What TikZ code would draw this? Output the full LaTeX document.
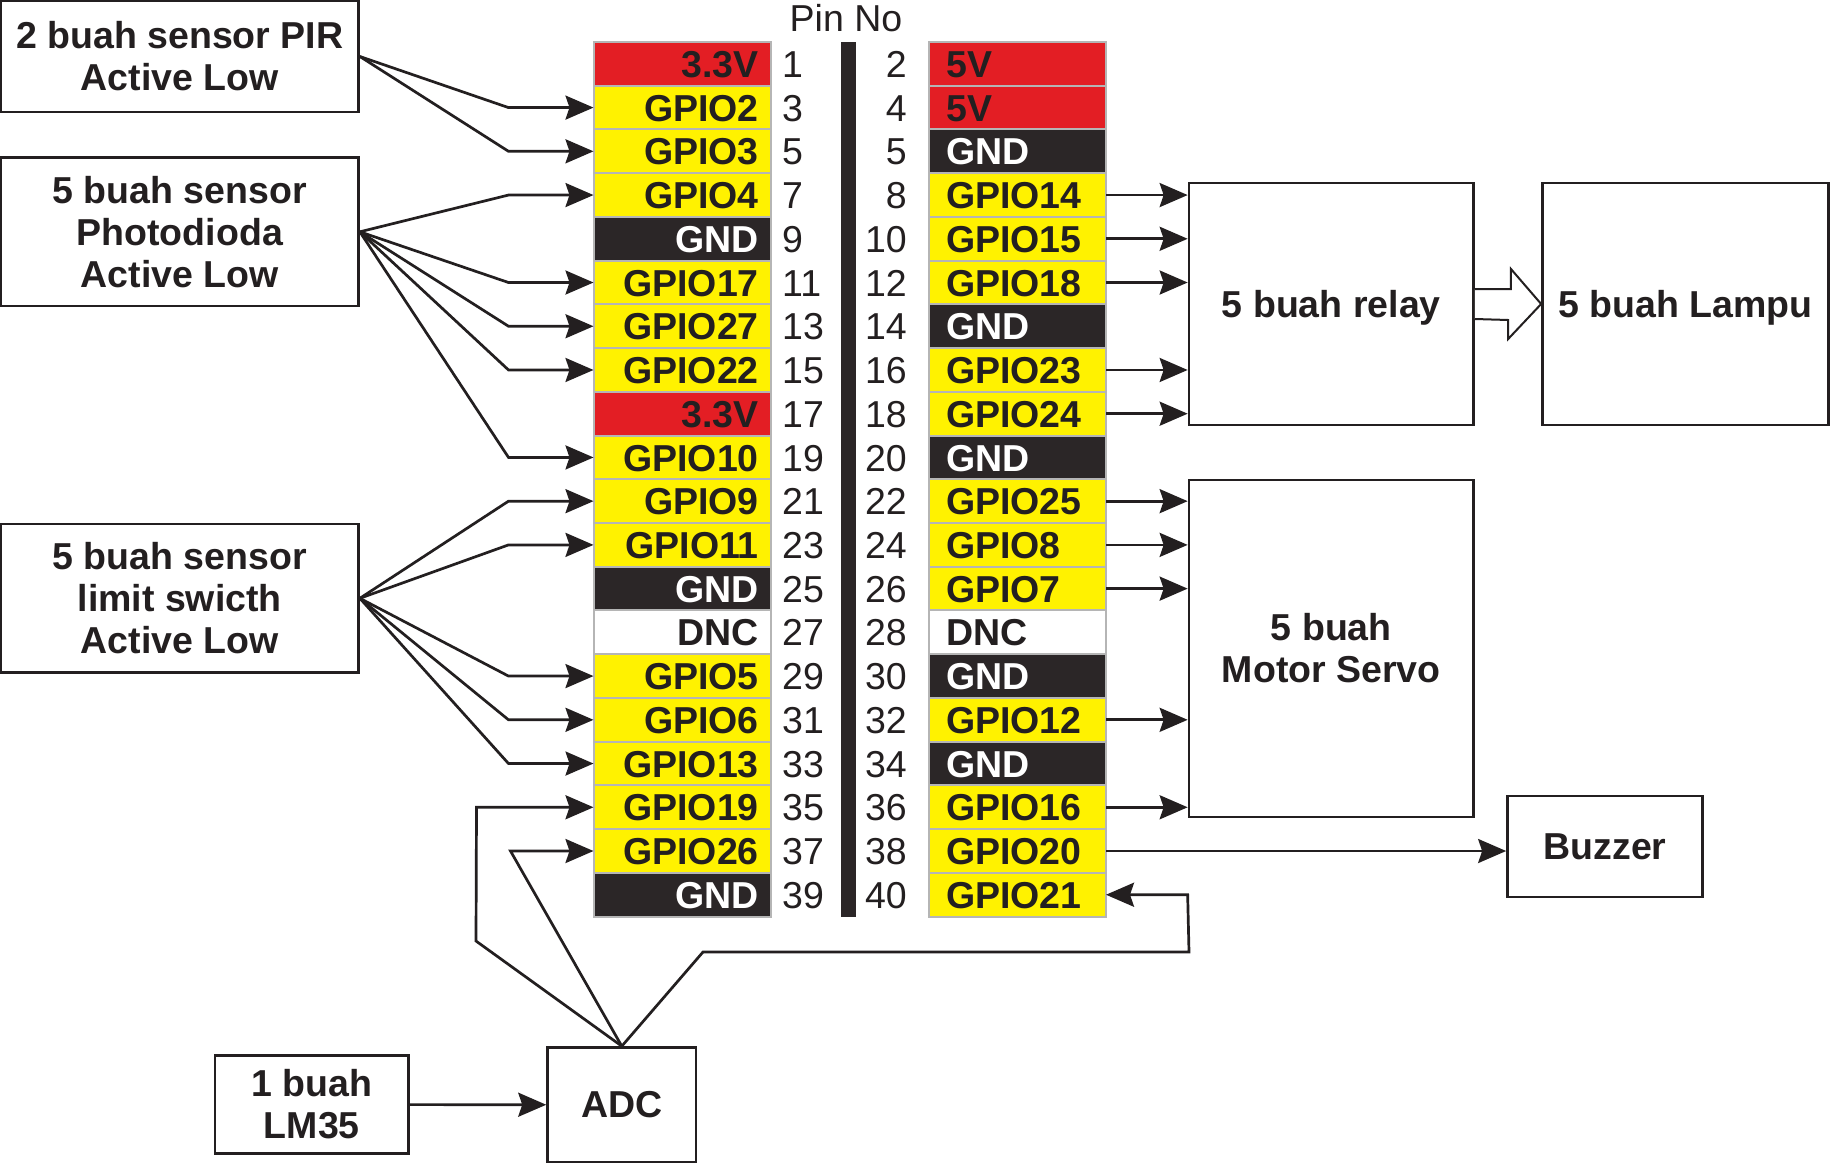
\documentclass[tikz,border=0pt]{standalone}
\usepackage{fontspec}
\setmainfont{Liberation Sans}
\usetikzlibrary{arrows.meta}
\definecolor{ink}{HTML}{231F20}
\definecolor{pinred}{HTML}{E31E24}
\definecolor{pinyel}{HTML}{FFF200}
\definecolor{pinblk}{HTML}{2B2627}
\definecolor{pingray}{HTML}{B5B5B5}
\begin{document}
\begin{tikzpicture}[x=1pt,y=-1pt,
 pinrow/.style={draw=pingray, line width=2pt, minimum width=177pt, minimum height=43.73pt, inner sep=0pt, outer sep=0pt},
 lbl/.style={font=\fontsize{37.5}{42}\selectfont\bfseries, inner sep=0pt},
 num/.style={font=\fontsize{37.5}{42}\selectfont, text=ink, inner sep=0pt},
 blk/.style={draw=ink, line width=2.7pt, fill=white, align=center, font=\fontsize{37.5}{42}\selectfont\bfseries, text=ink, inner sep=0pt},
 conn/.style={draw=ink, line width=2.7pt, -{Stealth[length=28pt,width=24pt,inset=4pt]}},
 hollow/.style={draw=ink, line width=2pt, fill=white, line join=miter},
]
\useasboundingbox (0,0) rectangle (1831,1164);
\fill[white] (0,0) rectangle (1831,1164);

% header and bar
\node[num] (pinno) at (846,18) {Pin No};
\node[fill=pinblk, minimum width=15pt, minimum height=875pt, inner sep=0pt] (bar) at (848.5,479.5) {};

% pin rows
\foreach \i/\lt/\lf/\lc/\rt/\rf/\rc/\rn in {
 0/3.3V/pinred/ink/5V/pinred/ink/2,
 1/GPIO2/pinyel/ink/5V/pinred/ink/4,
 2/GPIO3/pinyel/ink/GND/pinblk/white/5,
 3/GPIO4/pinyel/ink/GPIO14/pinyel/ink/8,
 4/GND/pinblk/white/GPIO15/pinyel/ink/10,
 5/GPIO17/pinyel/ink/GPIO18/pinyel/ink/12,
 6/GPIO27/pinyel/ink/GND/pinblk/white/14,
 7/GPIO22/pinyel/ink/GPIO23/pinyel/ink/16,
 8/3.3V/pinred/ink/GPIO24/pinyel/ink/18,
 9/GPIO10/pinyel/ink/GND/pinblk/white/20,
 10/GPIO9/pinyel/ink/GPIO25/pinyel/ink/22,
 11/GPIO11/pinyel/ink/GPIO8/pinyel/ink/24,
 12/GND/pinblk/white/GPIO7/pinyel/ink/26,
 13/DNC/white/ink/DNC/white/ink/28,
 14/GPIO5/pinyel/ink/GND/pinblk/white/30,
 15/GPIO6/pinyel/ink/GPIO12/pinyel/ink/32,
 16/GPIO13/pinyel/ink/GND/pinblk/white/34,
 17/GPIO19/pinyel/ink/GPIO16/pinyel/ink/36,
 18/GPIO26/pinyel/ink/GPIO20/pinyel/ink/38,
 19/GND/pinblk/white/GPIO21/pinyel/ink/40}{
 \pgfmathsetmacro\yc{42+43.73*(\i+0.5)}
 \pgfmathsetmacro\yb{\yc+13.6}
 \pgfmathtruncatemacro\ln{2*\i+1}
 \pgfmathtruncatemacro\rpin{2*\i+2}
 \node[pinrow, fill=\lf] (p\ln) at (682,\yc) {};
 \node[pinrow, fill=\rf] (p\rpin) at (1017.5,\yc) {};
 \node[lbl, text=\lc, anchor=base east] (lt\ln) at (759,\yb) {\lt};
 \node[lbl, text=\rc, anchor=base west] (rt\rpin) at (946,\yb) {\rt};
 \node[num, anchor=base west] (ln\ln) at (782,\yb) {\ln};
 \node[num, anchor=base east] (rn\rpin) at (907,\yb) {\rn};
}

% blocks
\node[blk, minimum width=357.5pt, minimum height=111pt] (pir) at (179.75,56.5) {2 buah sensor PIR\\Active Low};
\node[blk, minimum width=357.5pt, minimum height=148.4pt] (photo) at (179.75,231.8) {5 buah sensor\\Photodioda\\Active Low};
\node[blk, minimum width=357.5pt, minimum height=148.6pt] (limit) at (179.75,598.3) {5 buah sensor\\limit swicth\\Active Low};
\node[blk, minimum width=193.7pt, minimum height=98pt] (lm35) at (311.85,1104.6) {1 buah\\LM35};
\node[blk, minimum width=148.4pt, minimum height=114.5pt] (adc) at (621.8,1104.75) {ADC};
\node[blk, minimum width=284.6pt, minimum height=242pt, text depth=0pt] (relay) at (1331.3,304) {5 buah relay};
\node[blk, minimum width=286pt, minimum height=242pt, text depth=0pt] (lampu) at (1685.5,304) {5 buah Lampu};
\node[blk, minimum width=284.6pt, minimum height=337pt] (servo) at (1331.3,648.5) {5 buah\\Motor Servo};
\node[blk, minimum width=195pt, minimum height=101pt] (buzzer) at (1605,846.5) {Buzzer};

% left connectors
\foreach \p in {3,5} \draw[conn] (pir.east) -- ([xshift=-85pt]p\p.west) -- (p\p.west);
\foreach \p in {7,11,13,15,19} \draw[conn] (photo.east) -- ([xshift=-85pt]p\p.west) -- (p\p.west);
\foreach \p in {21,23,29,31,33} \draw[conn] (limit.east) -- ([xshift=-85pt]p\p.west) -- (p\p.west);

% right connectors
\foreach \p in {8,10,12,16,18} \draw[conn] (p\p.east) -- (p\p.east -| relay.west);
\foreach \p in {22,24,26,32,36} \draw[conn] (p\p.east) -- (p\p.east -| servo.west);
\draw[conn] (p38.east) -- (p38.east -| buzzer.west);

% hollow arrow relay -> lampu
\draw[hollow] ([yshift=15pt]relay.east) -- ++(36,0) -- ++(0,-20) -- (lampu.west)
  -- ([xshift=-33pt,yshift=-35pt]lampu.west) -- ++(0,-19) -- ([yshift=-15pt]relay.east);

% ADC connections
\draw[conn] (lm35.east) -- (adc.west);
\draw[conn] (adc.north) -- (476,941) -- ([xshift=-117pt]p35.west) -- (p35.west);
\draw[conn] (adc.north) -- ([xshift=-83pt]p37.west) -- (p37.west);
\draw[conn] (adc.north) -- (703,952) -- (1189,952) -- (p40.east -| servo.west) -- (p40.east);
\end{tikzpicture}
\end{document}
